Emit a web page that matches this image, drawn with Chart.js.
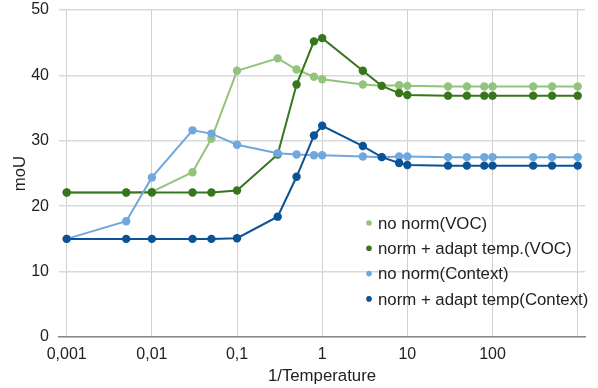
<!DOCTYPE html>
<html>
<head>
<meta charset="utf-8">
<script src="https://cdn.jsdelivr.net/npm/chart.js@4/dist/chart.umd.min.js"></script>
<style>
html,body{margin:0;padding:0;background:#fff;}
#wrap{width:598px;height:388px;}
</style>
</head>
<body>
<div id="wrap"><canvas id="c" width="598" height="388"></canvas></div>
<script>
const temps = [0.001, 0.005, 0.01, 0.03, 0.05, 0.1, 0.3, 0.5, 0.8, 1, 3, 5, 8, 10, 30, 50, 80, 100, 300, 500, 1000];
const noNormVOC  = [22.1, 22.1, 22.2, 25.2, 30.3, 40.7, 42.6, 40.9, 39.8, 39.4, 38.6, 38.4, 38.5, 38.4, 38.3, 38.3, 38.3, 38.3, 38.3, 38.3, 38.3];
const normVOC    = [22.1, 22.1, 22.1, 22.1, 22.1, 22.4, 27.9, 38.6, 45.2, 45.7, 40.7, 38.4, 37.3, 37.0, 36.9, 36.9, 36.9, 36.9, 36.9, 36.9, 36.9];
const noNormCtx  = [15.0, 17.7, 24.4, 31.6, 31.1, 29.4, 28.1, 27.9, 27.8, 27.8, 27.6, 27.5, 27.6, 27.6, 27.5, 27.5, 27.5, 27.5, 27.5, 27.5, 27.5];
const normCtx    = [15.0, 15.0, 15.0, 15.0, 15.0, 15.1, 18.4, 24.5, 30.8, 32.3, 29.2, 27.5, 26.6, 26.3, 26.2, 26.2, 26.2, 26.2, 26.2, 26.2, 26.2];
const seriesNames = ['no norm(VOC)', 'norm + adapt temp.(VOC)', 'no norm(Context)', 'norm + adapt temp(Context)'];
const xTickValues = [0.001, 0.01, 0.1, 1, 10, 100, 1000];
const xTickLabels = ['0,001', '0,01', '0,1', '1', '10', '100', ''];
const xTitle = '1/Temperature';
const yTitle = 'moU';

const colors = ['#93c47d', '#38761d', '#6fa8dc', '#0b5394'];
const FONT = '"Liberation Sans", Arial, sans-serif';
const all = [noNormVOC, normVOC, noNormCtx, normCtx];

const datasets = all.map((vals, i) => ({
  label: seriesNames[i],
  data: temps.map((t, j) => ({x: t, y: vals[j]})),
  borderColor: colors[i],
  backgroundColor: colors[i],
  pointBackgroundColor: colors[i],
  pointBorderColor: colors[i],
  pointRadius: 4.2,
  pointBorderWidth: 0,
  borderWidth: 2,
  tension: 0,
  clip: false,
  order: 4 - i
}));

const legendPlugin = {
  id: 'inlegend',
  afterDraw(chart) {
    const ctx = chart.ctx;
    ctx.save();
    ctx.font = '16.8px ' + FONT;
    ctx.textBaseline = 'middle';
    ctx.textAlign = 'left';
    const x0 = 369, y0 = 223, dy = 25.3;
    chart.data.datasets.forEach((ds, i) => {
      const y = y0 + i * dy;
      ctx.fillStyle = ds.borderColor;
      ctx.beginPath();
      ctx.arc(x0, y, 2.8, 0, Math.PI * 2);
      ctx.fill();
      ctx.fillStyle = '#222';
      ctx.fillText(ds.label, x0 + 9, y + 1);
    });
    ctx.restore();
  }
};

new Chart(document.getElementById('c'), {
  type: 'line',
  data: { datasets },
  plugins: [legendPlugin],
  options: {
    responsive: false,
    animation: false,
    events: [],
    layout: { padding: { top: 10, right: 13, left: 0, bottom: 0 }, autoPadding: false },
    plugins: { legend: { display: false }, tooltip: { enabled: false } },
    scales: {
      x: {
        type: 'logarithmic',
        min: 0.000812,
        max: 1218,
        afterBuildTicks: s => { s.ticks = xTickValues.map(v => ({value: v})); },
        afterFit: s => { s.height = 51; s.paddingLeft = 0; s.paddingRight = 0; },
        ticks: {
          autoSkip: false,
          maxRotation: 0,
          padding: 8,
          color: '#222',
          font: { family: FONT, size: 16 },
          callback: (v, i) => xTickLabels[i]
        },
        grid: { color: '#d0d0d0', lineWidth: 1, drawTicks: false },
        border: { display: true, color: '#888', width: 1.5 },
        title: { display: true, text: xTitle, color: '#222', font: { family: FONT, size: 16.8 }, padding: { top: 0, bottom: 2 } }
      },
      y: {
        min: 0,
        max: 50,
        afterFit: s => { s.width = 59; s.paddingTop = 0; s.paddingBottom = 0; },
        ticks: {
          stepSize: 10,
          padding: 10,
          color: '#222',
          font: { family: FONT, size: 16 }
        },
        grid: { color: '#d9d9d9', lineWidth: 1.5, drawTicks: false },
        border: { display: false },
        title: { display: true, text: yTitle, color: '#222', font: { family: FONT, size: 16.8 }, padding: { top: 10, bottom: 0 } }
      }
    }
  }
});
</script>
</body>
</html>
